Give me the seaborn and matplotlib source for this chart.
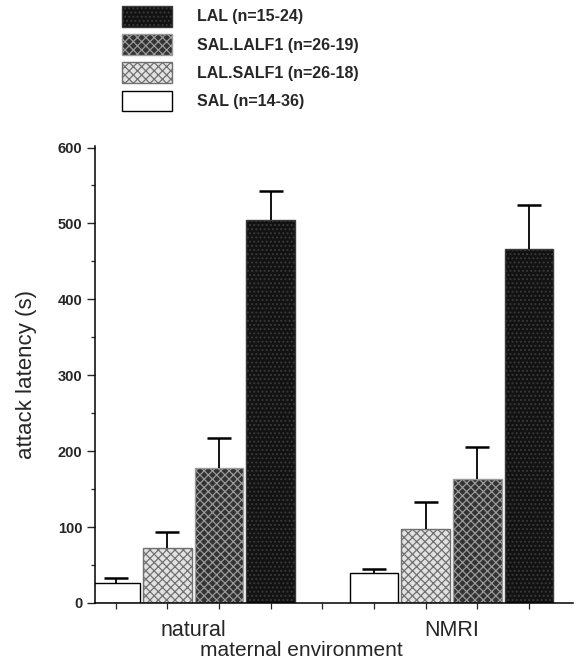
import numpy as np
import pandas as pd
import matplotlib
matplotlib.use("Agg")
import matplotlib.pyplot as plt
import seaborn as sns
from matplotlib.ticker import MultipleLocator, FixedLocator

# ---- data ----
environments = ["natural", "NMRI"]
groups = ["SAL", "LAL.SALF1", "SAL.LALF1", "LAL"]
group_n = ["n=14-36", "n=26-18", "n=26-19", "n=15-24"]
latency_natural = [26, 72, 178, 505]
latency_nmri = [39, 98, 164, 466]
sem_natural = [7, 22, 39, 38]
sem_nmri = [6, 35, 42, 58]

rows = []
for env, lat, err in [("natural", latency_natural, sem_natural), ("NMRI", latency_nmri, sem_nmri)]:
    for g, v, e in zip(groups, lat, err):
        rows.append({"environment": env, "group": g, "latency": v, "sem": e})
df = pd.DataFrame(rows)

sns.set_style("ticks")
plt.rcParams["font.family"] = ["Liberation Sans", "DejaVu Sans"]
plt.rcParams["hatch.linewidth"] = 0.9

fig = plt.figure(figsize=(5.78, 6.66), dpi=100)
ax = fig.add_axes([95 / 578, 1 - 603 / 666, (573 - 95) / 578, (603 - 146) / 666])

face = {"SAL": "#ffffff", "LAL.SALF1": "#e2e2e2", "SAL.LALF1": "#333333", "LAL": "#121212"}
sns.barplot(data=df, x="environment", y="latency", hue="group",
            order=environments, hue_order=groups, palette=face,
            width=0.8, errorbar=None, legend=False, ax=ax,
            edgecolor="black", linewidth=1.0)
bar_containers = list(ax.containers)

styles = {
    "SAL": dict(hatch=None, edgecolor="black"),
    "LAL.SALF1": dict(hatch="xxxx", edgecolor="#707070"),
    "SAL.LALF1": dict(hatch="xxxx", edgecolor="#9a9a9a"),
    "LAL": dict(hatch="....", edgecolor="#3a3a3a"),
}
centers = []
for g, cont in zip(groups, bar_containers):
    xs, ys = [], []
    for bar in cont:
        bar.set_edgecolor(styles[g]["edgecolor"])
        if styles[g]["hatch"]:
            bar.set_hatch(styles[g]["hatch"])
        w = bar.get_width()
        bar.set_x(bar.get_x() + w * 0.03)
        bar.set_width(w * 0.94)
        xs.append(bar.get_x() + bar.get_width() / 2)
        ys.append(bar.get_height())
        centers.append(xs[-1])
    errs = df[df.group == g].set_index("environment").loc[environments, "sem"].values
    eb = ax.errorbar(xs, ys, yerr=[np.zeros(len(errs)), errs], fmt="none",
                     ecolor="black", elinewidth=1.3, capsize=8.3, capthick=1.8, zorder=5)
    eb.lines[1][0].set_visible(False)  # hide lower cap (one-sided error)

centers = sorted(centers)
gap = (centers[3] + centers[4]) / 2
minor_x = centers[:4] + [gap] + centers[4:]

ax.set_ylim(0, 602)
ax.set_xlim(-0.38, 1.47)
ax.yaxis.set_major_locator(MultipleLocator(100))
ax.yaxis.set_minor_locator(MultipleLocator(50))
ax.xaxis.set_minor_locator(FixedLocator(minor_x))
ax.tick_params(axis="x", which="major", length=0, pad=12, labelsize=15.5)
ax.tick_params(axis="x", which="minor", length=4, width=0.9, direction="out")
ax.tick_params(axis="y", which="major", length=6, width=1.0, labelsize=10.5, pad=3)
ax.tick_params(axis="y", which="minor", length=3, width=0.9)
for lab in ax.get_yticklabels():
    lab.set_fontweight("bold")
sns.despine(ax=ax)
for sp in ["left", "bottom"]:
    ax.spines[sp].set_linewidth(1.1)
    ax.spines[sp].set_color("black")

ax.set_xlabel("maternal environment", fontsize=15)
ax.xaxis.set_label_coords((301 - 95) / 478, -(641 - 603) / 457)
ax.set_ylabel("attack latency (s)", fontsize=16, labelpad=15)

handles = bar_containers[::-1]
labels = [f"{g} ({n})" for g, n in zip(groups, group_n)][::-1]
fig.legend(handles, labels, loc="upper left", bbox_to_anchor=(122 / 578, 1 - 6 / 666),
           frameon=False, prop={"size": 11.5, "weight": "bold"},
           handlelength=3.1, handleheight=1.6, labelspacing=0.48, handletextpad=1.6,
           borderaxespad=0, borderpad=0)

fig.savefig("out.png", dpi=100)
